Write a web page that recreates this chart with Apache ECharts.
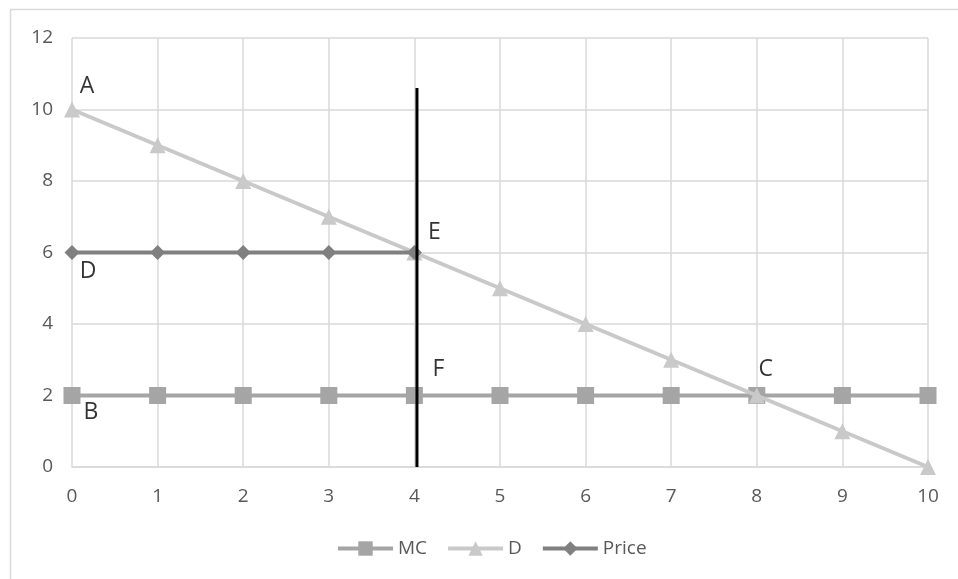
<!DOCTYPE html>
<html>
<head>
<meta charset="utf-8">
<script src="https://cdn.jsdelivr.net/npm/echarts@6/dist/echarts.min.js"></script>
<style>
html,body{margin:0;padding:0;background:#fff;}
#c{width:958px;height:579px;}
</style>
</head>
<body>
<div id="c"></div>
<script>
var quantities = [0,1,2,3,4,5,6,7,8,9,10];
var mcValues = [2,2,2,2,2,2,2,2,2,2,2];
var dValues = [10,9,8,7,6,5,4,3,2,1,0];
var priceQuantities = [0,1,2,3,4];
var priceValues = [6,6,6,6,6];
var verticalX = [4.03,4.03];
var verticalY = [0,10.6];
var pointNames = ['A','D','E','F','B','C'];
var pointX = [0,0,4,4,0,8];
var pointY = [10,6,6,2,2,2];
var yTicks = [0,2,4,6,8,10,12];

function zip(xs, ys){ return xs.map(function(x,i){ return [x, ys[i]]; }); }
var labelOffsets = {A:[15,-23],D:[16,19],E:[20,-20],F:[24,-26],B:[19,17],C:[9,-26]};

var chart = echarts.init(document.getElementById('c'));
var font = '"Open Sans", Lato, sans-serif';
chart.setOption({
  animation:false,
  backgroundColor:'#fff',
  graphic:[{type:'rect',shape:{x:10.5,y:9.5,width:1000,height:700},style:{fill:'none',stroke:'#d9d9d9',lineWidth:1.5},silent:true,z:-10}],
  grid:{left:72,right:30,top:38,bottom:112},
  legend:{
    bottom:16,left:331,itemWidth:55,itemHeight:18,itemGap:19,
    textStyle:{color:'#595959',fontSize:19,fontFamily:font},
    lineStyle:{width:4},
    data:['MC','D','Price']
  },
  xAxis:{
    type:'value',min:0,max:10,interval:1,
    axisLine:{show:true,lineStyle:{color:'#d9d9d9',width:1.5}},
    axisTick:{show:false},
    axisLabel:{color:'#595959',fontSize:19,fontFamily:font,margin:20},
    splitLine:{show:true,lineStyle:{color:'#d9d9d9',width:1.5}}
  },
  yAxis:{
    type:'value',min:yTicks[0],max:yTicks[yTicks.length-1],interval:2,
    axisLine:{show:false},axisTick:{show:false},
    axisLabel:{color:'#595959',fontSize:19,fontFamily:font,margin:19},
    splitLine:{show:true,lineStyle:{color:'#d9d9d9',width:1.5}}
  },
  series:[
    {name:'MC',type:'line',data:zip(quantities,mcValues),symbol:'rect',symbolSize:17,
     itemStyle:{color:'#a5a5a5'},lineStyle:{color:'#a5a5a5',width:4},z:2},
    {name:'D',type:'line',data:zip(quantities,dValues),symbol:'triangle',symbolSize:16,
     itemStyle:{color:'#c9c9c9'},lineStyle:{color:'#c9c9c9',width:4},z:3},
    {name:'Price',type:'line',data:zip(priceQuantities,priceValues),symbol:'diamond',symbolSize:15,
     itemStyle:{color:'#808080'},lineStyle:{color:'#808080',width:4},z:4},
    {name:'vline',type:'line',data:zip(verticalX,verticalY),symbol:'none',
     lineStyle:{color:'#000',width:3},z:5,silent:true},
    {name:'labels',type:'scatter',symbolSize:0,z:6,silent:true,
     data:pointNames.map(function(n,i){return {name:n,value:[pointX[i],pointY[i]],
       label:{show:true,formatter:n,position:'inside',offset:labelOffsets[n],color:'#000',fontSize:23,fontFamily:font}};})}
  ]
});
</script>
</body>
</html>
